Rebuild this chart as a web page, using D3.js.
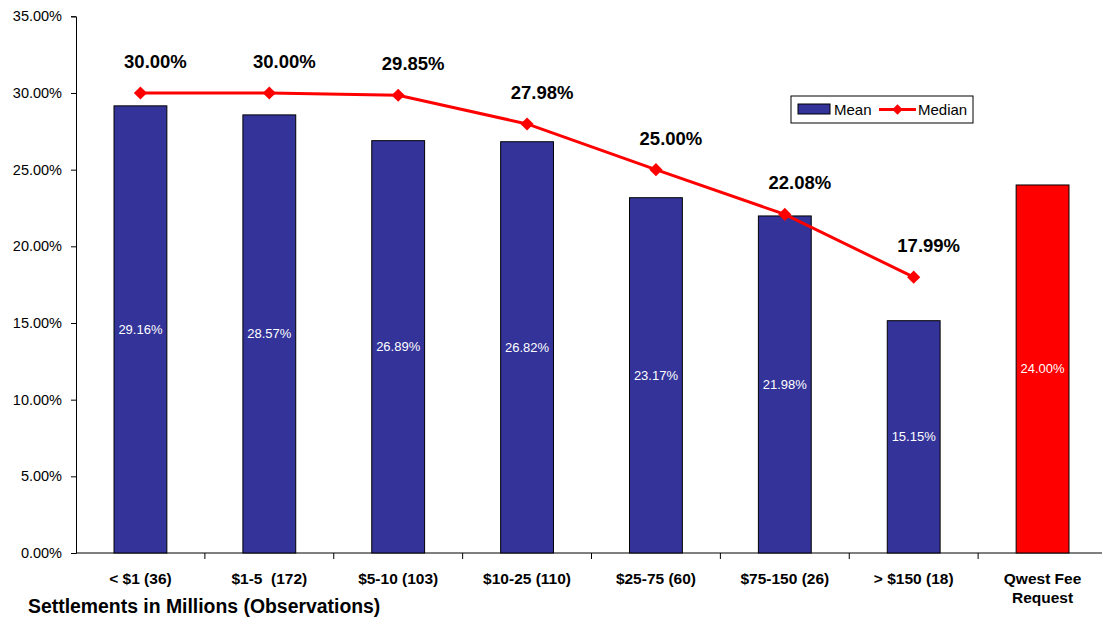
<!DOCTYPE html>
<html>
<head>
<meta charset="utf-8">
<script src="https://cdn.jsdelivr.net/npm/d3@7"></script>
<style>
  body { margin: 0; background: #fff; }
  svg { font-family: "Liberation Sans", Arial, sans-serif; }
</style>
</head>
<body>
<div id="chart"></div>
<script>
var categories = ["< $1 (36)", "$1-5  (172)", "$5-10 (103)", "$10-25 (110)", "$25-75 (60)", "$75-150 (26)", "> $150 (18)", "Qwest Fee|Request"];
var meanValues = [29.16, 28.57, 26.89, 26.82, 23.17, 21.98, 15.15, 24.00];
var medianValues = [30.00, 30.00, 29.85, 27.98, 25.00, 22.08, 17.99];
var yTicks = [0, 5, 10, 15, 20, 25, 30, 35];

var WIDTH = 1102, HEIGHT = 618;
var plotLeft = 76, plotRight = 1107, plotTop = 16.3, plotBottom = 553;

var svg = d3.select("#chart").append("svg")
    .attr("width", WIDTH)
    .attr("height", HEIGHT);

var x = d3.scaleBand().domain(categories).range([plotLeft, plotRight]).paddingInner(0.59).paddingOuter(0.295);
var y = d3.scaleLinear().domain([0, 35]).range([plotBottom, plotTop]);

// y axis
var yAxis = svg.append("g")
    .attr("transform", "translate(" + plotLeft + ",0)")
    .call(d3.axisLeft(y).tickValues(yTicks).tickSize(5).tickPadding(9).tickFormat(function(d) { return d.toFixed(2) + "%"; }));
yAxis.select(".domain").attr("stroke", "#000");
yAxis.selectAll("text").attr("font-size", 14.5).attr("fill", "#000");

// x axis (ticks between categories)
var step = x.step();
var xg = svg.append("g").attr("transform", "translate(0," + plotBottom + ")");
xg.append("line").attr("x1", plotLeft).attr("x2", WIDTH).attr("stroke", "#000");
xg.selectAll("line.tk").data(d3.range(1, categories.length))
    .enter().append("line").attr("class", "tk")
    .attr("x1", function(i) { return plotLeft + i * step; })
    .attr("x2", function(i) { return plotLeft + i * step; })
    .attr("y1", 0).attr("y2", 6).attr("stroke", "#000");

xg.selectAll("text.cat").data(categories)
    .enter().append("text").attr("class", "cat")
    .attr("text-anchor", "middle")
    .attr("font-weight", "bold")
    .attr("font-size", 15.5)
    .attr("transform", function(d) { return "translate(" + (x(d) + x.bandwidth() / 2) + ",0)"; })
    .each(function(d) {
        var t = d3.select(this);
        d.split("|").forEach(function(part, i) {
            t.append("tspan").attr("x", 0).attr("y", 31 + i * 19).attr("xml:space", "preserve").text(part);
        });
    });

svg.append("text")
    .attr("x", 28).attr("y", 613)
    .attr("font-weight", "bold").attr("font-size", 19.4)
    .text("Settlements in Millions (Observations)");

// bars
svg.selectAll("rect.bar").data(meanValues)
    .enter().append("rect").attr("class", "bar")
    .attr("x", function(d, i) { return x(categories[i]); })
    .attr("width", x.bandwidth())
    .attr("y", function(d) { return y(d); })
    .attr("height", function(d) { return plotBottom - y(d); })
    .attr("fill", function(d, i) { return i === categories.length - 1 ? "#ff0000" : "#333399"; })
    .attr("stroke", "#000").attr("stroke-width", 1);

svg.selectAll("text.barlab").data(meanValues)
    .enter().append("text").attr("class", "barlab")
    .attr("x", function(d, i) { return x(categories[i]) + x.bandwidth() / 2; })
    .attr("y", function(d) { return (y(d) + plotBottom) / 2 + 4.5; })
    .attr("text-anchor", "middle")
    .attr("font-size", 13)
    .attr("fill", "#fff")
    .text(function(d) { return d.toFixed(2) + "%"; });

// median line
var cx = function(d, i) { return x(categories[i]) + x.bandwidth() / 2; };
var line = d3.line().x(cx).y(function(d) { return y(d); });
svg.append("path").datum(medianValues)
    .attr("d", line).attr("fill", "none")
    .attr("stroke", "#ff0000").attr("stroke-width", 3);

svg.selectAll("path.mk").data(medianValues)
    .enter().append("path").attr("class", "mk")
    .attr("d", d3.symbol().type(d3.symbolDiamond2).size(110))
    .attr("transform", function(d, i) { return "translate(" + cx(d, i) + "," + y(d) + ")"; })
    .attr("fill", "#ff0000");

svg.selectAll("text.medlab").data(medianValues)
    .enter().append("text").attr("class", "medlab")
    .attr("x", function(d, i) { return cx(d, i) + 15; })
    .attr("y", function(d) { return y(d) - 25; })
    .attr("text-anchor", "middle")
    .attr("font-weight", "bold")
    .attr("font-size", 18.5)
    .text(function(d) { return d.toFixed(2) + "%"; });

// legend
var lg = svg.append("g").attr("transform", "translate(791,96)");
lg.append("rect").attr("width", 182).attr("height", 27).attr("fill", "#fff").attr("stroke", "#000");
lg.append("rect").attr("x", 7).attr("y", 8).attr("width", 32).attr("height", 10).attr("fill", "#333399").attr("stroke", "#000");
lg.append("text").attr("x", 43).attr("y", 19).attr("font-size", 15).text("Mean");
lg.append("line").attr("x1", 88).attr("x2", 125).attr("y1", 13.5).attr("y2", 13.5).attr("stroke", "#ff0000").attr("stroke-width", 3);
lg.append("path").attr("d", d3.symbol().type(d3.symbolDiamond2).size(70)).attr("transform", "translate(106.5,13.5)").attr("fill", "#ff0000");
lg.append("text").attr("x", 127).attr("y", 19).attr("font-size", 15).text("Median");
</script>
</body>
</html>
